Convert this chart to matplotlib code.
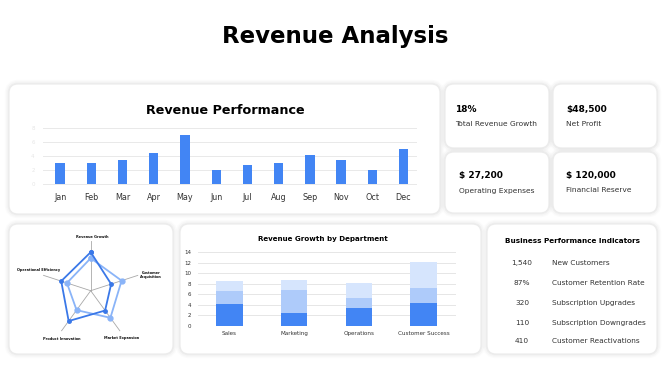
import numpy as np
import matplotlib
matplotlib.use('Agg')
import matplotlib.pyplot as plt
from matplotlib.patches import FancyBboxPatch

W, H = 670, 376
plt.rcParams['font.family'] = ['DejaVu Sans']

# Daten
months = ['Jan', 'Feb', 'Mar', 'Apr', 'May', 'Jun', 'Jul', 'Aug', 'Sep', 'Nov', 'Oct', 'Dec']
revenue = [3.0, 3.0, 3.5, 4.5, 7.0, 2.0, 2.7, 3.0, 4.2, 3.5, 2.0, 5.0]

departments = ['Sales', 'Marketing', 'Operations', 'Customer Success']
dept_base = [4.2, 2.5, 3.4, 4.4]
dept_mid = [2.4, 4.3, 1.8, 2.8]
dept_top = [2.0, 2.0, 3.0, 5.0]

radar_labels = ['Revenue Growth', 'Customer\nAcquisition', 'Market Expansion',
                'Product Innovation', 'Operational Efficiency']
radar_a = [7.7, 4.3, 4.9, 7.5, 6.2]
radar_b = [6.5, 6.5, 6.7, 4.8, 5.0]

kpi_values = ['18%', '$48,500', '$ 27,200', '$ 120,000']
kpi_labels = ['Total Revenue Growth', 'Net Profit', 'Operating Expenses', 'Financial Reserve']

ind_values = ['1,540', '87%', '320', '110', '410']
ind_labels = ['New Customers', 'Customer Retention Rate', 'Subscription Upgrades',
              'Subscription Downgrades', 'Customer Reactivations']

BLUE = '#4285f4'
MID = '#aecbfa'
LIGHT = '#d6e5fd'

fig = plt.figure(figsize=(W / 100, H / 100), dpi=100)
fig.patch.set_facecolor('white')

bg = fig.add_axes([0, 0, 1, 1])
bg.set_xlim(0, W)
bg.set_ylim(H, 0)
bg.axis('off')


def card(x0, y0, x1, y1):
    # weicher Schatten + weisse Karte
    for lw, a in [(6, 0.035), (4, 0.05), (2, 0.08)]:
        bg.add_patch(FancyBboxPatch((x0, y0), x1 - x0, y1 - y0,
                                    boxstyle='round,pad=0,rounding_size=9',
                                    fc='none', ec='#9a9a9a', lw=lw, alpha=a))
    bg.add_patch(FancyBboxPatch((x0, y0), x1 - x0, y1 - y0,
                                boxstyle='round,pad=0,rounding_size=9',
                                fc='white', ec='#ebebeb', lw=0.8))


def px_axes(x0, y0, x1, y1, **kw):
    return fig.add_axes([x0 / W, 1 - y1 / H, (x1 - x0) / W, (y1 - y0) / H], **kw)


bg.text(335, 36, 'Revenue Analysis', ha='center', va='center',
        fontsize=16.5, fontweight='bold', color='black')

# Karten
card(9, 84, 440, 214)
card(445, 84, 549, 148)
card(553, 84, 657, 148)
card(445, 152, 549, 213)
card(553, 152, 657, 213)
card(9, 224, 173, 354)
card(180, 224, 481, 354)
card(487, 224, 657, 354)

# Revenue Performance
bg.text(225, 110, 'Revenue Performance', ha='center', va='center',
        fontsize=9.2, fontweight='bold', color='black')
ax = px_axes(43, 128.3, 416, 184.3)
ax.set_facecolor('none')
x = np.arange(len(months))
ax.bar(x, revenue, width=0.3, color=BLUE, zorder=2)
ax.set_xlim(-0.55, 11.4)
ax.set_ylim(0, 8)
ax.set_xticks(x, months)
ax.set_yticks([0, 2, 4, 6, 8])
ax.tick_params(axis='x', length=0, labelsize=5.8, colors='#333333', pad=6)
ax.tick_params(axis='y', length=0, labelsize=4, colors='#e6e6e6', pad=6)
ax.yaxis.grid(True, color='#e9e9e9', lw=0.7, zorder=0, clip_on=False)
for s in ax.spines.values():
    s.set_visible(False)

# KPI Karten
kpi_pos = [(455, 109.5), (566.5, 109.5), (459, 175.5), (566.5, 175.5)]
for (kx, ky), v, l in zip(kpi_pos, kpi_values, kpi_labels):
    bg.text(kx, ky, v, ha='left', va='center', fontsize=6.5, fontweight='bold', color='black')
    bg.text(kx, ky + 15, l, ha='left', va='center', fontsize=5.4, color='#333333')

# Radar
cx, cy, R = 90.7, 290.7, 50
rax = px_axes(cx - R, cy - R, cx + R, cy + R, projection='polar')
rax.set_facecolor('none')
rax.set_theta_offset(np.pi / 2)
rax.set_theta_direction(-1)
ang = np.linspace(0, 2 * np.pi, len(radar_a), endpoint=False)
rax.set_xticks(ang)
rax.set_xticklabels([])
rax.set_yticks([])
rax.set_ylim(0, 10)
rax.xaxis.grid(True, color='#a8a8a8', lw=0.6)
rax.spines['polar'].set_visible(False)
ang_c = np.append(ang, ang[0])
rax.plot(ang_c, np.append(radar_b, radar_b[0]), color='#8ab4f8', lw=1.3,
         marker='o', ms=3.5, zorder=3)
rax.plot(ang_c, np.append(radar_a, radar_a[0]), color='#3a78e8', lw=1.3,
         marker='o', ms=2.5, zorder=4)
lab_pos = [(92, 236.5), (151, 275), (122, 338.5), (62, 338.5), (39, 270.5)]
for (lx, ly), t in zip(lab_pos, radar_labels):
    bg.text(lx, ly, t, ha='center', va='center', fontsize=2.5, fontweight='bold',
            color='#111111', linespacing=1.3)

# Revenue Growth by Department
bg.text(322.5, 239, 'Revenue Growth by Department', ha='center', va='center',
        fontsize=5.1, fontweight='bold', color='black')
sax = px_axes(198.3, 252.3, 456, 325.7)
sax.set_facecolor('none')
xd = np.arange(len(departments))
b1 = np.array(dept_base)
b2 = b1 + np.array(dept_mid)
sax.bar(xd, dept_base, width=0.41, color=BLUE, zorder=2)
sax.bar(xd, dept_mid, width=0.41, bottom=b1, color=MID, zorder=2)
sax.bar(xd, dept_top, width=0.41, bottom=b2, color=LIGHT, zorder=2)
sax.set_xlim(-0.48, 3.5)
sax.set_ylim(0, 14)
sax.set_xticks(xd, departments)
sax.set_yticks(range(0, 15, 2))
sax.tick_params(axis='x', length=0, labelsize=4.1, colors='#333333', pad=4)
sax.tick_params(axis='y', length=0, labelsize=4, colors='#333333', pad=5)
sax.yaxis.grid(True, color='#e6e6e6', lw=0.7, zorder=0)
for s in sax.spines.values():
    s.set_visible(False)

# Business Performance Indicators
bg.text(572.5, 241, 'Business Performance Indicators', ha='center', va='center',
        fontsize=5.2, fontweight='bold', color='black')
row_y = [263.3, 282.7, 302.7, 323.3, 341]
for ry, v, l in zip(row_y, ind_values, ind_labels):
    bg.text(522, ry, v, ha='center', va='center', fontsize=5.3, color='#333333')
    bg.text(552, ry, l, ha='left', va='center', fontsize=5.3, color='#333333')

fig.savefig('out.png', dpi=100, facecolor='white')
